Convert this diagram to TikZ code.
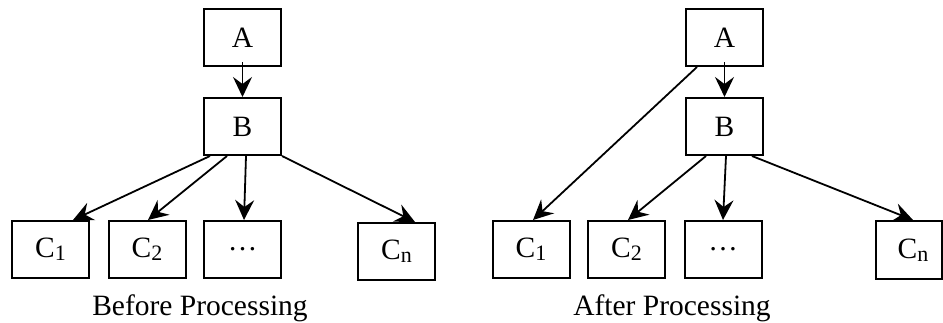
\documentclass[tikz,border=0pt]{standalone}
\usepackage{fontspec}
\setmainfont{Liberation Serif}
\usetikzlibrary{arrows.meta,calc}
\newcommand\mysub[1]{\raisebox{-3pt}{\fontsize{22}{22}\selectfont #1}}
\begin{document}
\begin{tikzpicture}[x=1pt,y=-1pt,
  box/.style={draw,line width=2pt,minimum width=77pt,minimum height=57pt,inner sep=0pt,font=\fontsize{29.5}{31}\selectfont},
  arr/.style={line width=1.8pt,-{Stealth[length=20pt,width=19pt,inset=7pt]}},
  captext/.style={anchor=base,font=\fontsize{29.5}{31}\selectfont}]
\useasboundingbox (0,0) rectangle (943,322);
% Before
\node[box] (A1) at (242.5,37.5) {A};
\node[box] (B1) at (242.5,126.5) {B};
\node[box] (C11) at (50.5,249.5) {C\mysub{1}};
\node[box] (C21) at (147,249.5) {C\mysub{2}};
\node[box] (D1) at (242.5,249.5) {…};
\node[box] (Cn1) at (396.5,251.5) {C\mysub{n}};
\draw[arr] ($(A1.south)+(0,-5)$) -- (B1.north);
\draw[arr] ($(B1.south)+(-32.5,0)$) -- ($(C11.north)+(22.5,0)$);
\draw[arr] ($(B1.south)+(-15.5,0)$) -- ($(C21.north)+(1,0)$);
\draw[arr] ($(B1.south)+(3.5,0)$) -- ($(D1.north)+(1.5,0)$);
\draw[arr] (B1.south east) -- ($(Cn1.north)+(18.5,0)$);
\node[captext] (L1) at (200,315) {Before Processing};
% After
\node[box] (A2) at (724.5,37.5) {A};
\node[box] (B2) at (724.5,126.5) {B};
\node[box] (C12) at (531,249.5) {C\mysub{1}};
\node[box] (C22) at (626.5,249.5) {C\mysub{2}};
\node[box] (D2) at (723,249.5) {…};
\node[box,minimum width=66pt,minimum height=58pt] (Cn2) at (909,250) {\hspace*{8pt}C\mysub{n}};
\draw[arr] ($(A2.south)+(0,-5)$) -- (B2.north);
\draw[arr] ($(A2.south west)+(12,0)$) -- ($(C12.north)+(2,0)$);
\draw[arr] ($(B2.south)+(-18.5,0)$) -- ($(C22.north)+(1.5,0)$);
\draw[arr] ($(B2.south)+(1.5,0)$) -- (D2.north);
\draw[arr] ($(B2.south)+(27.5,0)$) -- ($(Cn2.north)+(4,0)$);
\node[captext] (L2) at (672,315) {After Processing};
\end{tikzpicture}
\end{document}
